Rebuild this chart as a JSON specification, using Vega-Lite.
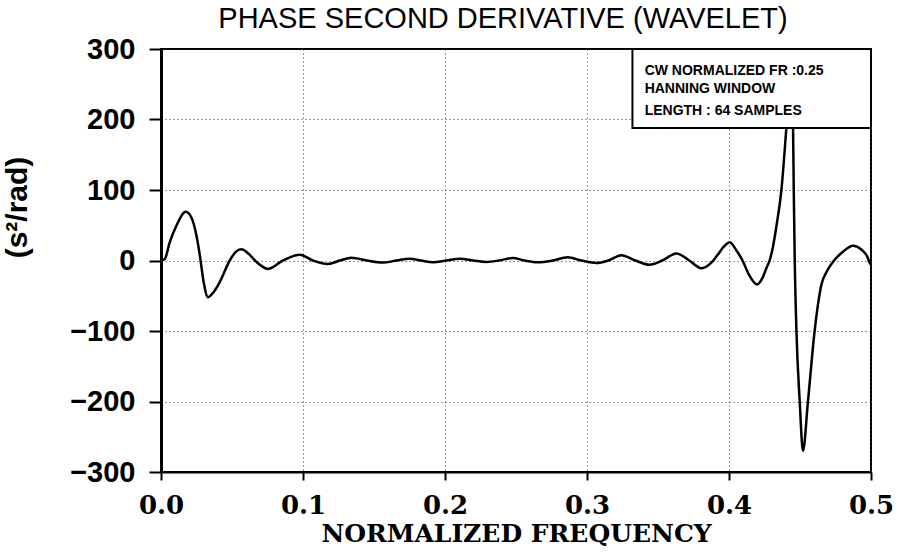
{
  "$schema": "https://vega.github.io/schema/vega-lite/v6.json",
  "width": 710,
  "height": 423,
  "autosize": {"type": "none"},
  "padding": {"left": 161, "top": 49, "right": 28, "bottom": 87},
  "background": "white",
  "config": {
    "view": {"stroke": "black", "strokeWidth": 2},
    "axis": {
      "grid": true,
      "gridColor": "#333333",
      "gridDash": [1, 3],
      "gridWidth": 1,
      "gridOpacity": 1,
      "domainColor": "black",
      "tickColor": "black",
      "labelColor": "black",
      "titleColor": "black"
    }
  },
  "title": {
    "text": "PHASE SECOND DERIVATIVE (WAVELET)",
    "font": "Liberation Sans",
    "fontSize": 29,
    "fontWeight": "normal",
    "color": "black",
    "anchor": "middle",
    "frame": "group",
    "baseline": "alphabetic",
    "offset": -22,
    "dx": -13
  },
  "datasets": {
    "curve": [
      {"f": 0.0, "v": 0}, {"f": 0.0026, "v": 2}, {"f": 0.0062, "v": 26}, {"f": 0.011, "v": 50},
      {"f": 0.0174, "v": 69}, {"f": 0.0214, "v": 61}, {"f": 0.025, "v": 35}, {"f": 0.0273, "v": 8},
      {"f": 0.03, "v": -30}, {"f": 0.0331, "v": -52}, {"f": 0.037, "v": -45}, {"f": 0.0413, "v": -31},
      {"f": 0.0484, "v": 0}, {"f": 0.0525, "v": 12}, {"f": 0.0566, "v": 16}, {"f": 0.062, "v": 9},
      {"f": 0.0672, "v": -2}, {"f": 0.0754, "v": -12}, {"f": 0.0859, "v": 0}, {"f": 0.0977, "v": 8},
      {"f": 0.107, "v": 0}, {"f": 0.1176, "v": -5}, {"f": 0.126, "v": 0}, {"f": 0.1341, "v": 4},
      {"f": 0.145, "v": 0}, {"f": 0.1563, "v": -3}, {"f": 0.166, "v": 0}, {"f": 0.1751, "v": 2.5},
      {"f": 0.183, "v": 0}, {"f": 0.1915, "v": -2.5}, {"f": 0.201, "v": 0}, {"f": 0.2104, "v": 2.5},
      {"f": 0.22, "v": 0}, {"f": 0.2292, "v": -2}, {"f": 0.238, "v": 0}, {"f": 0.2477, "v": 3.5},
      {"f": 0.256, "v": 0}, {"f": 0.2653, "v": -2.5}, {"f": 0.276, "v": 0}, {"f": 0.2864, "v": 4.5},
      {"f": 0.296, "v": 0}, {"f": 0.3066, "v": -3.5}, {"f": 0.315, "v": 0}, {"f": 0.3242, "v": 7.5},
      {"f": 0.334, "v": 0}, {"f": 0.3442, "v": -6}, {"f": 0.353, "v": 0}, {"f": 0.363, "v": 10},
      {"f": 0.372, "v": 0}, {"f": 0.3805, "v": -11}, {"f": 0.387, "v": -4}, {"f": 0.392, "v": 8},
      {"f": 0.3965, "v": 20}, {"f": 0.4005, "v": 26}, {"f": 0.405, "v": 15}, {"f": 0.4095, "v": 0},
      {"f": 0.414, "v": -20}, {"f": 0.4197, "v": -34}, {"f": 0.4235, "v": -25}, {"f": 0.4265, "v": -10},
      {"f": 0.4286, "v": 0}, {"f": 0.431, "v": 20}, {"f": 0.4335, "v": 50},
      {"f": 0.4369, "v": 100}, {"f": 0.4404, "v": 188}, {"f": 0.4427, "v": 250},
      {"f": 0.4451, "v": 188}, {"f": 0.4456, "v": 100}, {"f": 0.4463, "v": 0}, {"f": 0.4475, "v": -100},
      {"f": 0.4498, "v": -200}, {"f": 0.4521, "v": -270}, {"f": 0.4556, "v": -200}, {"f": 0.4603, "v": -100},
      {"f": 0.4651, "v": -34}, {"f": 0.469, "v": -15}, {"f": 0.474, "v": 0}, {"f": 0.48, "v": 12},
      {"f": 0.4873, "v": 21}, {"f": 0.493, "v": 16}, {"f": 0.4975, "v": 5}, {"f": 0.499, "v": -3}, {"f": 0.5, "v": -6}
    ],
    "box": [{"x1": 0.332, "x2": 0.5, "y1": 188, "y2": 300}],
    "notes": [
      {"x": 0.3406, "y": 269, "t": "CW NORMALIZED FR :0.25"},
      {"x": 0.3406, "y": 243.5, "t": "HANNING WINDOW"},
      {"x": 0.3406, "y": 212.5, "t": "LENGTH : 64 SAMPLES"}
    ]
  },
  "encoding": {
    "x": {
      "type": "quantitative",
      "scale": {"domain": [0, 0.5], "nice": false, "zero": false},
      "axis": {
        "title": "NORMALIZED FREQUENCY",
        "values": [0, 0.1, 0.2, 0.3, 0.4, 0.5],
        "format": ".1f",
        "labelFont": "DejaVu Serif",
        "labelFontWeight": "bold",
        "labelFontSize": 26,
        "labelPadding": 12,
        "labelFlush": false,
        "tickSize": 8,
        "tickWidth": 2,
        "domainWidth": 2,
        "titleFont": "DejaVu Serif",
        "titleFontWeight": "bold",
        "titleFontSize": 25,
        "titlePadding": 3
      }
    },
    "y": {
      "type": "quantitative",
      "scale": {"domain": [-300, 300], "nice": false},
      "axis": {
        "title": "(s²/rad)",
        "values": [-300, -200, -100, 0, 100, 200, 300],
        "labelFont": "Liberation Sans",
        "labelFontWeight": "bold",
        "labelFontSize": 29,
        "labelPadding": 14,
        "labelFlush": false,
        "tickSize": 12,
        "tickWidth": 2,
        "domainWidth": 3,
        "titleFont": "Liberation Sans",
        "titleFontWeight": "bold",
        "titleFontSize": 30,
        "titleX": -129,
        "titleY": 158,
        "titleAngle": -90,
        "titleAlign": "center",
        "titleBaseline": "bottom"
      }
    }
  },
  "layer": [
    {
      "data": {"name": "curve"},
      "mark": {"type": "line", "color": "black", "strokeWidth": 2.5, "interpolate": "monotone", "clip": true},
      "encoding": {
        "x": {"field": "f", "type": "quantitative"},
        "y": {"field": "v", "type": "quantitative"}
      }
    },
    {
      "data": {"name": "box"},
      "mark": {"type": "rect", "fill": "white", "stroke": "black", "strokeWidth": 2},
      "encoding": {
        "x": {"field": "x1", "type": "quantitative"},
        "x2": {"field": "x2"},
        "y": {"field": "y1", "type": "quantitative"},
        "y2": {"field": "y2"}
      }
    },
    {
      "data": {"name": "notes"},
      "mark": {"type": "text", "align": "left", "baseline": "middle", "font": "Liberation Sans", "fontWeight": "bold", "fontSize": 14, "color": "black"},
      "encoding": {
        "x": {"field": "x", "type": "quantitative"},
        "y": {"field": "y", "type": "quantitative"},
        "text": {"field": "t"}
      }
    }
  ]
}
